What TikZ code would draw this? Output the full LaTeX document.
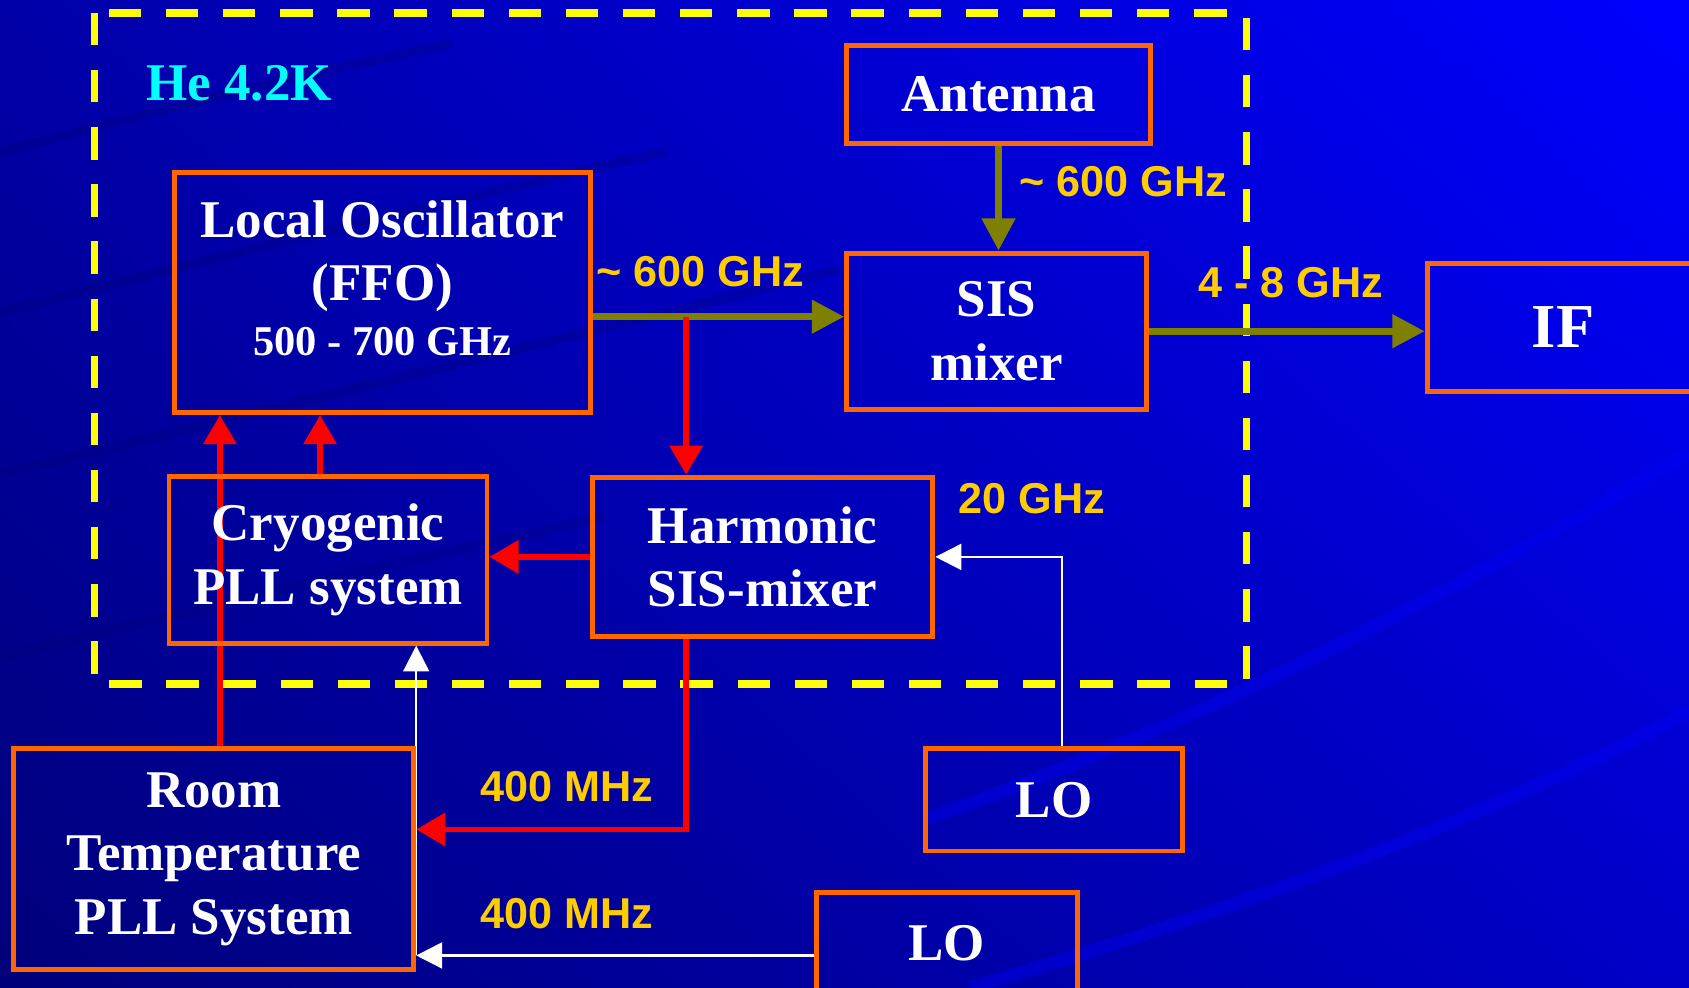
\documentclass[tikz,border=0pt]{standalone}
\usepackage{fontspec}
\setmainfont{Liberation Serif}
\newfontfamily\labfont{Liberation Sans}
\usetikzlibrary{arrows.meta,calc,shadings}
\definecolor{boxorange}{HTML}{FF6600}
\definecolor{olivearr}{HTML}{808000}
\definecolor{lblyellow}{HTML}{FFCC00}
\definecolor{hecyan}{HTML}{00FFFF}
\definecolor{bgtl}{HTML}{0000A8}
\definecolor{bgtr}{HTML}{0000FF}
\definecolor{bgbl}{HTML}{00007A}
\definecolor{bgbr}{HTML}{0000C8}
\definecolor{streaklight}{HTML}{0000F4}
\definecolor{streakdark}{HTML}{000070}
\definecolor{dashyellow}{HTML}{FFFF00}
\pgfdeclarelayer{bglayer}
\pgfdeclarelayer{wires}
\pgfsetlayers{bglayer,wires,main}
\begin{document}
\begin{tikzpicture}[x=0.01cm,y=-0.01cm,
  blk/.style={draw=boxorange,line width=1.3pt,text=white,
    font=\fontsize{14}{16.8}\selectfont\bfseries,align=center,inner sep=0pt,rectangle},
  txt/.style={text=white,font=\fontsize{14}{16.8}\selectfont\bfseries,align=center,inner sep=0pt},
  lbl/.style={text=lblyellow,font=\labfont\fontsize{11.4}{13}\selectfont\bfseries,inner sep=0pt},
  olivearrow/.style={draw=olivearr,line width=1.8pt,-{Triangle[length=0.3cm,width=0.3cm]}},
  redarrow/.style={draw=red,line width=1.5pt,line join=miter,-{Triangle[length=0.27cm,width=0.3cm]}},
  wirearrow/.style={draw=white,line width=0.6pt,-{Triangle[length=0.24cm,width=0.24cm]}},
]
\clip (0,0) rectangle (1568,917);

% boxes
\node[blk,minimum width=2.82cm,minimum height=0.91cm] (ant) at (927,87.5) {Antenna};
\node[blk,minimum width=2.78cm,minimum height=1.45cm] (sis) at (925,307.5) {SIS\\mixer};
\node[blk,minimum width=2.52cm,minimum height=1.18cm,font=\fontsize{16.5}{19}\selectfont\bfseries] (if) at (1451,304) {IF};
\node[blk,minimum width=3.86cm,minimum height=2.23cm] (ffo) at (355,271.5) {};
\node[txt] (ffotxt) at (355,258) {Local Oscillator\\(FFO)\\[-2.5pt]{\fontsize{11.2}{13}\selectfont 500 - 700 GHz}};
\node[blk,minimum width=2.95cm,minimum height=1.55cm] (cryo) at (304.5,519.5) {Cryogenic\\PLL system};
\node[blk,minimum width=3.16cm,minimum height=1.48cm] (harm) at (708,517) {Harmonic\\SIS-mixer};
\node[blk,minimum width=3.71cm,minimum height=2.05cm] (room) at (198.5,797.5) {Room\\Temperature\\PLL System};
\node[blk,minimum width=2.39cm,minimum height=0.95cm] (lo1) at (978.5,742.5) {LO};
\node[blk,minimum width=2.42cm,minimum height=0.94cm] (lo2) at (879,876) {LO};

% labels
\node[text=hecyan,font=\fontsize{14}{16.8}\selectfont\bfseries,inner sep=0pt] (he) at (222,77) {He 4.2K};
\node[lbl] (l600a) at (650,252) {\textasciitilde{} 600 GHz};
\node[lbl] (l600b) at (1043,169) {\textasciitilde{} 600 GHz};
\node[lbl] (l48) at (1198,262) {4 - 8 GHz};
\node[lbl] (l20) at (958,463) {20 GHz};
\node[lbl] (l400a) at (526,730) {400 MHz};
\node[lbl] (l400b) at (526,848) {400 MHz};

\begin{pgfonlayer}{bglayer}
  \shade[upper left=bgtl,upper right=bgtr,lower left=bgbl,lower right=bgbr] (0,0) rectangle (1568,917);
  \draw[streaklight,line width=0.12cm,opacity=0.45] (860,760) .. controls (1150,660) and (1400,520) .. (1568,420);
  \draw[streaklight,line width=0.12cm,opacity=0.45] (900,917) .. controls (1200,830) and (1420,740) .. (1568,660);
  \draw[streakdark,line width=0.09cm,opacity=0.25] (0,142) .. controls (150,100) and (280,70) .. (420,40);
  \draw[streakdark,line width=0.09cm,opacity=0.25] (0,290) .. controls (200,240) and (400,190) .. (620,140);
  \draw[streakdark,line width=0.09cm,opacity=0.25] (0,440) .. controls (250,380) and (500,320) .. (780,250);
  \draw[streakdark,line width=0.09cm,opacity=0.22] (0,610) .. controls (200,560) and (380,520) .. (560,480);
  \draw[dashyellow,line width=1.9pt,dash pattern=on 0.3cm off 0.23cm] (88,12) rectangle (1157,635);
\end{pgfonlayer}

\begin{pgfonlayer}{wires}
  \coordinate (split) at (637,294);
  \coordinate (bend) at (637,770);
  \coordinate (ffoA) at ($(ffo.south west)!0.114!(ffo.south east)$);
  \coordinate (ffoB) at ($(ffo.south west)!0.352!(ffo.south east)$);
  \coordinate (lo2w) at ([yshift=-0.11cm]lo2.west);
  \coordinate (lo1n) at ([xshift=0.075cm]lo1.north);
  \draw[olivearrow] (ffo.east |- split) -- (sis.west |- split);
  \draw[olivearrow] (ant.south) -- (ant.south |- sis.north);
  \draw[olivearrow] (sis.east) -- (if.west |- sis.east);
  \draw[redarrow] (split) -- (split |- harm.north);
  \draw[redarrow] (harm.west) -- (cryo.east |- harm.west);
  \draw[redarrow] (ffoB |- cryo.north) -- (ffoB);
  \draw[redarrow] (ffoA |- room.north) -- (ffoA);
  \draw[redarrow] (split |- harm.south) -- (bend) -- (bend -| room.east);
  \draw[wirearrow] (lo1n) |- (harm.east);
  \draw[wirearrow] (lo2w) -- (lo2w -| room.east);
  \draw[wirearrow] (lo2w -| room.east) -- (room.east |- cryo.south);
\end{pgfonlayer}
\end{tikzpicture}
\end{document}
